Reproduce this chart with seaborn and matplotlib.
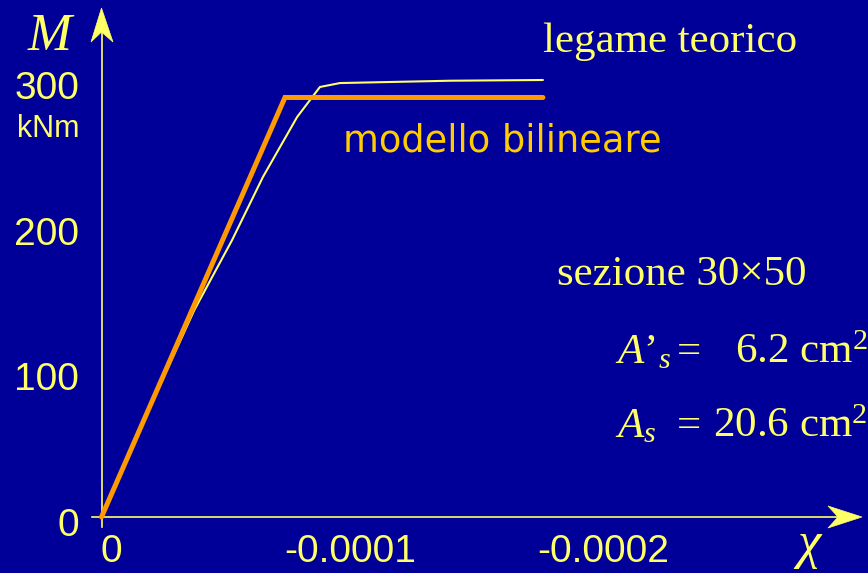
import matplotlib
matplotlib.use("Agg")
import matplotlib.pyplot as plt
from matplotlib.patches import Polygon
from matplotlib.transforms import ScaledTranslation
import numpy as np
import pandas as pd
import seaborn as sns

# Moment-curvature data (curvature chi, moment M in kNm)
chi_theory = [0.0, -0.0000180, -0.0000366, -0.0000515, -0.0000637, -0.0000772,
              -0.0000862, -0.0000941, -0.0001375, -0.0001742]
m_theory = [0.0, 71.0, 142.0, 190.0, 233.4, 274.6, 295.2, 297.9, 299.5, 300.0]

chi_bilinear = [0.0, -0.0000724, -0.0001742]
m_bilinear = [0.0, 288.0, 288.0]

x_ticks = [0.0, -0.0001, -0.0002]
x_tick_labels = ["0", "-0.0001", "-0.0002"]
y_ticks = [0, 100, 200, 300]
y_tick_labels = ["0", "100", "200", "300"]

BG = "#000099"
YELLOW = "#FFFF66"
ORANGE = "#FF9900"
GOLD = "#FFCC00"
TICK = "#C8C890"

W, H = 868, 573

sns.set_theme(style="white")
plt.rcParams["font.family"] = ["Liberation Sans", "DejaVu Sans"]
plt.rcParams["mathtext.fontset"] = "custom"
plt.rcParams["mathtext.rm"] = "Liberation Serif"
plt.rcParams["mathtext.it"] = "Liberation Serif:italic"

fig = plt.figure(figsize=(W / 100, H / 100), dpi=100, facecolor=BG)
ax = fig.add_axes([0, 0, 1, 1], facecolor=BG)

theory = pd.DataFrame({"chi": chi_theory, "M": m_theory})
bilinear = pd.DataFrame({"chi": chi_bilinear, "M": m_bilinear})

sns.lineplot(data=theory, x="chi", y="M", ax=ax, color=YELLOW, linewidth=1.5,
             sort=False, estimator=None, zorder=3)
sns.lineplot(data=bilinear, x="chi", y="M", ax=ax, color=ORANGE, linewidth=3.6,
             sort=False, estimator=None, zorder=4, solid_joinstyle="miter")

# axis scaling: 0 at px 101.5, 253.4 px per 1e-4 ; M=0 at px 517, 1.4567 px per kNm
x0, sx = 101.5, 253.4e4
y0, sy = 517.0, 437.0 / 300.0
ax.set_xlim(x0 / sx, -(W - x0) / sx)
ax.set_ylim(-(H - y0) / sy, y0 / sy)

ax.spines["top"].set_visible(False)
ax.spines["right"].set_visible(False)
for side in ("left", "bottom"):
    ax.spines[side].set_position(("data", 0))
    ax.spines[side].set_color(YELLOW)
    ax.spines[side].set_linewidth(1.2)
ax.spines["left"].set_bounds(-(527 - y0) / sy, (y0 - 32) / sy)
ax.spines["bottom"].set_bounds((x0 - 92) / sx, -(838 - x0) / sx)

ax.set_xticks(x_ticks)
ax.set_xticklabels(x_tick_labels)
ax.set_yticks(y_ticks)
ax.set_yticklabels(y_tick_labels)
ax.tick_params(axis="both", direction="out", length=7, width=1.2, color=TICK,
               labelcolor=YELLOW, labelsize=28)
ax.tick_params(axis="x", pad=5)
ax.tick_params(axis="y", pad=9)
ax.set_xlabel("")
ax.set_ylabel("")
ax.grid(False)

for lab in ax.get_yticklabels():
    lab.set_transform(lab.get_transform() + ScaledTranslation(0, -0.05, fig.dpi_scale_trans))
xl = ax.get_xticklabels()
xl[0].set_transform(xl[0].get_transform() + ScaledTranslation(0.1, 0, fig.dpi_scale_trans))
for lab in xl[1:]:
    lab.set_transform(lab.get_transform() + ScaledTranslation(-0.05, 0, fig.dpi_scale_trans))


def fp(x, y):
    return (x / W, 1 - y / H)


# arrowheads at the ends of the axes
for pts in ([(101.5, 8), (91, 42), (101.5, 32), (113, 42)],
            [(862, 517), (828, 506), (838, 517), (828, 528)]):
    ax.add_patch(Polygon([fp(*p) for p in pts], closed=True, transform=fig.transFigure,
                         facecolor=YELLOW, edgecolor=YELLOW, linewidth=0.5, zorder=5,
                         clip_on=False))

serif = ["Liberation Serif", "DejaVu Serif"]

fig.text(*fp(28, 50), "M", family=serif, style="italic", size=38, color=YELLOW,
         va="baseline", ha="left")
fig.text(*fp(17, 137), "kNm", size=22, color=YELLOW, va="baseline", ha="left")
fig.text(*fp(797, 558), "χ", family=serif, style="italic", size=38, color=YELLOW,
         va="baseline", ha="left")

fig.text(*fp(543, 52), "legame teorico", family=serif, size=31, color=YELLOW,
         va="baseline", ha="left")
fig.text(*fp(343, 152), "modello bilineare", family=["DejaVu Sans"], size=26.5,
         color=GOLD, va="baseline", ha="left")
fig.text(*fp(557, 285), "sezione 30×50", family=serif, size=31, color=YELLOW,
         va="baseline", ha="left")

fig.text(*fp(615, 363), r"$A’_{s}$", family=serif, size=31, color=YELLOW,
         va="baseline", ha="left")
fig.text(*fp(677, 363), "=", family=serif, size=31, color=YELLOW, va="baseline", ha="left")
fig.text(*fp(735, 363), r"6.2 cm$^{2}$", family=serif, size=31, color=YELLOW,
         va="baseline", ha="left")

fig.text(*fp(615, 437), r"$A_{s}$", family=serif, size=31, color=YELLOW,
         va="baseline", ha="left")
fig.text(*fp(677, 437), "=", family=serif, size=31, color=YELLOW, va="baseline", ha="left")
fig.text(*fp(713, 437), r"20.6 cm$^{2}$", family=serif, size=31, color=YELLOW,
         va="baseline", ha="left")

fig.savefig("out.png", dpi=100, facecolor=BG)
